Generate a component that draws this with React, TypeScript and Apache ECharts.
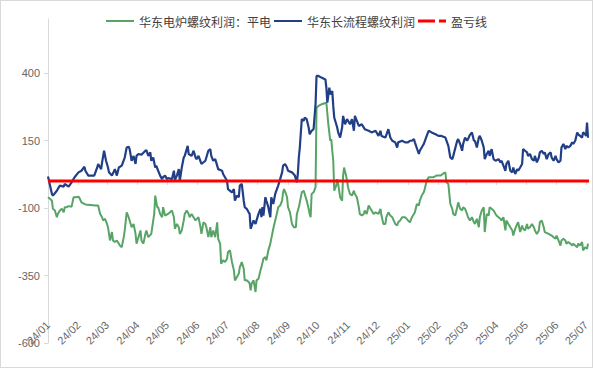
import React, { useEffect, useRef } from "react";
import * as echarts from "echarts";

// x values are days after 2024-01-01
const seriesNames = ["华东电炉螺纹利润：平电", "华东长流程螺纹利润", "盈亏线"];
const monthStartDays = [0, 31, 60, 91, 121, 152, 182, 213, 244, 274, 305, 335, 366, 397, 425, 456, 486, 517, 547];
const monthLabels = ["24/01", "24/02", "24/03", "24/04", "24/05", "24/06", "24/07", "24/08", "24/09", "24/10", "24/11", "24/12", "25/01", "25/02", "25/03", "25/04", "25/05", "25/06", "25/07"];
const yTicks = [-600, -350, -100, 150, 400];
const lastDay = 550;

// 华东电炉螺纹利润：平电  [day, value]
const eafProfit: [number, number][] = [
  [0, -60], [2, -66], [4, -73], [5, -103], [7, -109], [9, -134], [10, -122], [12, -109], [14, -103], [16, -116], [17, -97], [19, -97], [21, -93], [24, -95], [26, -60], [29, -60], [31, -58], [32, -63], [34, -79], [38, -87], [48, -91], [51, -91], [53, -122], [55, -134], [56, -146], [58, -140], [60, -159], [61, -171], [63, -220], [65, -189], [66, -220], [68, -226], [70, -220], [72, -232], [73, -239], [75, -245], [77, -208], [78, -183], [80, -116], [82, -134], [83, -146], [85, -171], [87, -159], [89, -196], [90, -232], [92, -208], [94, -183], [95, -220], [97, -232], [99, -196], [100, -183], [102, -208], [105, -196], [107, -146], [108, -122], [109, -54], [111, -97], [112, -97], [114, -122], [116, -134], [117, -97], [119, -128], [122, -122], [126, -109], [128, -134], [129, -177], [131, -159], [133, -171], [134, -196], [136, -183], [138, -146], [139, -122], [141, -109], [143, -122], [144, -134], [146, -122], [148, -134], [150, -146], [153, -134], [155, -171], [156, -196], [158, -153], [160, -159], [161, -171], [163, -208], [165, -171], [166, -208], [168, -183], [170, -208], [172, -153], [173, -214], [175, -232], [176, -306], [178, -294], [180, -300], [182, -288], [183, -263], [185, -257], [187, -300], [189, -331], [190, -368], [192, -356], [194, -343], [195, -319], [197, -300], [199, -325], [200, -368], [202, -368], [204, -374], [205, -380], [206, -405], [207, -380], [209, -368], [211, -411], [212, -368], [214, -362], [216, -331], [217, -319], [219, -288], [221, -282], [222, -294], [224, -257], [226, -232], [228, -196], [229, -177], [231, -146], [233, -116], [234, -97], [236, -91], [238, -73], [239, -42], [240, -30], [242, -48], [243, -60], [244, -97], [246, -116], [248, -159], [250, -171], [252, -171], [253, -122], [255, -97], [256, -79], [258, -42], [260, -36], [261, -48], [263, -73], [265, -103], [266, -122], [267, -134], [268, -48], [270, -42], [272, -23], [273, 272], [275, 278], [278, 284], [283, 290], [285, 210], [287, 149], [288, 155], [289, 112], [290, 75], [291, -36], [293, -17], [294, 7], [295, -11], [296, -36], [297, -60], [299, -73], [300, 20], [301, 50], [303, 20], [304, 1], [305, -23], [307, -48], [309, -54], [311, -36], [312, -48], [314, -60], [316, -97], [317, -122], [319, -128], [321, -122], [322, -109], [324, -122], [326, -91], [327, -97], [329, -109], [331, -122], [333, -116], [336, -122], [338, -103], [339, -128], [341, -159], [343, -159], [344, -134], [346, -116], [348, -128], [350, -134], [353, -159], [355, -165], [356, -153], [358, -146], [360, -134], [363, -134], [366, -146], [368, -153], [370, -134], [372, -122], [373, -116], [375, -85], [377, -91], [378, -73], [380, -54], [382, -42], [383, -30], [385, 1], [387, 14], [392, 14], [395, 20], [399, 20], [402, 28], [404, 32], [405, -5], [407, -11], [409, -85], [411, -103], [412, -122], [414, -128], [416, -97], [417, -79], [419, -103], [421, -109], [422, -97], [424, -103], [426, -122], [427, -134], [429, -146], [431, -134], [433, -153], [434, -159], [436, -140], [438, -171], [439, -134], [441, -109], [443, -97], [444, -189], [446, -122], [448, -128], [449, -97], [451, -103], [453, -109], [455, -122], [456, -128], [458, -134], [460, -140], [461, -146], [463, -134], [465, -183], [466, -146], [468, -159], [470, -171], [472, -183], [473, -202], [475, -177], [477, -159], [478, -153], [480, -189], [482, -165], [483, -177], [485, -183], [487, -159], [488, -177], [490, -171], [492, -159], [494, -171], [495, -183], [497, -196], [499, -183], [500, -153], [502, -146], [504, -171], [505, -189], [509, -196], [512, -202], [514, -208], [516, -214], [517, -202], [519, -220], [521, -239], [522, -220], [524, -214], [526, -220], [527, -232], [529, -226], [531, -232], [533, -239], [534, -232], [536, -239], [538, -245], [539, -232], [541, -239], [543, -226], [544, -257], [546, -245], [548, -251], [549, -232],
];

// 华东长流程螺纹利润  [day, value]
const bofProfit: [number, number][] = [
  [0, 17], [4, -48], [5, -54], [9, -36], [12, -17], [16, -21], [17, -11], [21, -21], [24, -5], [27, 14], [31, 32], [34, 38], [37, 53], [38, 38], [41, 20], [47, 20], [50, 50], [51, 63], [54, 44], [55, 69], [57, 112], [59, 75], [61, 50], [62, 32], [65, 20], [68, 44], [70, 20], [72, 50], [75, 57], [78, 87], [80, 124], [82, 127], [83, 118], [85, 75], [87, 93], [89, 63], [90, 93], [92, 100], [95, 97], [99, 112], [100, 114], [102, 93], [104, 106], [105, 75], [107, 87], [109, 50], [110, 57], [112, 38], [114, 20], [116, 7], [117, 14], [119, 20], [121, 7], [122, 11], [126, 7], [128, 38], [129, 4], [131, 20], [133, 44], [134, 1], [136, 50], [138, 87], [139, 93], [142, 130], [143, 100], [146, 93], [148, 112], [150, 87], [151, 81], [153, 93], [156, 63], [160, 75], [163, 112], [165, 118], [166, 93], [168, 75], [170, 81], [172, 57], [173, 44], [177, 38], [178, 26], [182, 1], [183, -30], [187, -42], [189, -30], [190, -73], [192, -54], [194, -60], [195, -17], [197, -11], [199, -73], [200, -97], [202, -103], [204, -116], [205, -122], [206, -177], [209, -146], [211, -159], [212, -146], [214, -122], [216, -103], [217, -134], [218, -97], [219, -128], [221, -60], [222, -73], [224, -97], [226, -134], [227, -60], [229, -85], [231, -48], [234, -17], [236, 7], [238, 32], [239, 57], [241, 63], [243, 50], [244, 38], [248, 32], [251, 20], [253, -5], [254, 26], [255, 87], [256, 124], [258, 229], [260, 223], [261, 235], [263, 229], [265, 198], [266, 173], [268, 186], [270, 192], [272, 284], [273, 389], [275, 389], [278, 383], [282, 376], [283, 346], [284, 290], [286, 346], [287, 321], [289, 333], [290, 278], [291, 235], [294, 198], [295, 180], [297, 161], [299, 198], [300, 241], [302, 210], [304, 229], [305, 223], [307, 210], [309, 229], [311, 186], [312, 241], [314, 223], [316, 204], [319, 210], [322, 192], [326, 186], [329, 180], [333, 186], [336, 167], [338, 186], [339, 167], [343, 161], [346, 192], [348, 161], [350, 149], [353, 143], [355, 124], [356, 143], [360, 149], [363, 143], [366, 143], [368, 149], [370, 149], [372, 155], [373, 143], [377, 100], [378, 112], [382, 137], [385, 167], [387, 186], [390, 180], [394, 173], [397, 167], [400, 167], [404, 161], [407, 130], [409, 87], [411, 81], [412, 93], [416, 149], [417, 155], [419, 137], [421, 112], [422, 137], [424, 161], [426, 149], [427, 155], [429, 171], [431, 180], [433, 149], [434, 149], [436, 124], [438, 161], [439, 167], [441, 149], [443, 124], [444, 81], [446, 100], [448, 112], [449, 93], [451, 118], [453, 81], [455, 75], [458, 81], [460, 69], [461, 75], [463, 57], [465, 38], [466, 63], [468, 75], [470, 38], [472, 32], [473, 50], [475, 26], [477, 44], [478, 38], [480, 50], [482, 63], [483, 118], [485, 112], [487, 106], [488, 93], [490, 100], [492, 81], [494, 75], [495, 93], [497, 69], [499, 87], [500, 106], [502, 112], [504, 100], [505, 106], [507, 81], [509, 100], [511, 106], [512, 87], [514, 75], [516, 93], [517, 81], [519, 69], [521, 75], [522, 124], [524, 137], [526, 118], [527, 130], [529, 124], [531, 130], [533, 143], [534, 137], [536, 149], [538, 180], [539, 173], [541, 167], [543, 161], [544, 180], [546, 173], [547, 167], [548, 216], [549, 160],
];

// 盈亏线  [day, value]
const breakEven: [number, number][] = [[0, 0], [lastDay, 0]];

export default function App() {
  const ref = useRef<HTMLDivElement>(null);
  useEffect(() => {
    if (!ref.current) return;
    const chart = echarts.init(ref.current, undefined, { renderer: "svg" });
    const axisColor = "#d9d9d9";
    const labelFont = "'Liberation Sans', Arial, sans-serif";
    const solidIcon = "path://M0,0H28V2H0Z";
    const dashedIcon = "path://M0,0H17V3H0Z M21,0H28V3H21Z";
    chart.setOption({
      animation: false,
      backgroundColor: "#ffffff",
      legend: {
        top: 10,
        left: "center",
        itemWidth: 28,
        itemHeight: 14,
        itemGap: 3,
        textStyle: { fontSize: 12, color: "#404040", fontFamily: "'Noto Sans CJK SC', sans-serif" },
        data: [
          { name: seriesNames[0], icon: solidIcon },
          { name: seriesNames[1], icon: solidIcon },
          { name: seriesNames[2], icon: dashedIcon },
        ],
      },
      grid: { left: 48, right: 4, top: 19, bottom: 25 },
      xAxis: {
        type: "value",
        min: 0,
        max: lastDay,
        offset: -28,
        axisLine: { show: true, lineStyle: { color: axisColor } },
        axisTick: { show: true, length: 4, lineStyle: { color: axisColor }, customValues: monthStartDays },
        axisLabel: {
          customValues: monthStartDays,
          rotate: 45,
          fontSize: 11,
          color: "#666666",
          fontFamily: labelFont,
          margin: 8,
          formatter: (v: number) => {
            const i = monthStartDays.indexOf(v);
            return i >= 0 ? monthLabels[i] : "";
          },
        },
        splitLine: { show: false },
      },
      yAxis: {
        type: "value",
        min: -600,
        max: 600,
        interval: 250,
        axisLine: { show: true, lineStyle: { color: axisColor } },
        axisTick: { show: true, length: 4, lineStyle: { color: axisColor }, customValues: yTicks },
        axisLabel: { customValues: yTicks, fontSize: 11, color: "#666666", fontFamily: labelFont, margin: 8 },
        splitLine: { show: false },
      },
      series: [
        {
          name: seriesNames[0],
          type: "line",
          data: eafProfit,
          symbol: "none",
          color: "#58a467",
          lineStyle: { width: 2, color: "#58a467" },
        },
        {
          name: seriesNames[1],
          type: "line",
          data: bofProfit,
          symbol: "none",
          color: "#213f86",
          lineStyle: { width: 2.2, color: "#213f86" },
        },
        {
          name: seriesNames[2],
          type: "line",
          data: breakEven,
          symbol: "none",
          color: "#ff0000",
          lineStyle: { width: 3, color: "#ff0000" },
        },
      ],
    });
    return () => chart.dispose();
  }, []);

  return (
    <div style={{ position: "absolute", left: 0, top: 0, width: 593, height: 368, background: "#fff" }}>
      <div ref={ref} style={{ width: 593, height: 368 }} />
      <div
        style={{
          position: "absolute",
          left: 0,
          top: 0,
          width: 593,
          height: 368,
          boxSizing: "border-box",
          border: "1px solid #d9d9d9",
          pointerEvents: "none",
        }}
      />
    </div>
  );
}
